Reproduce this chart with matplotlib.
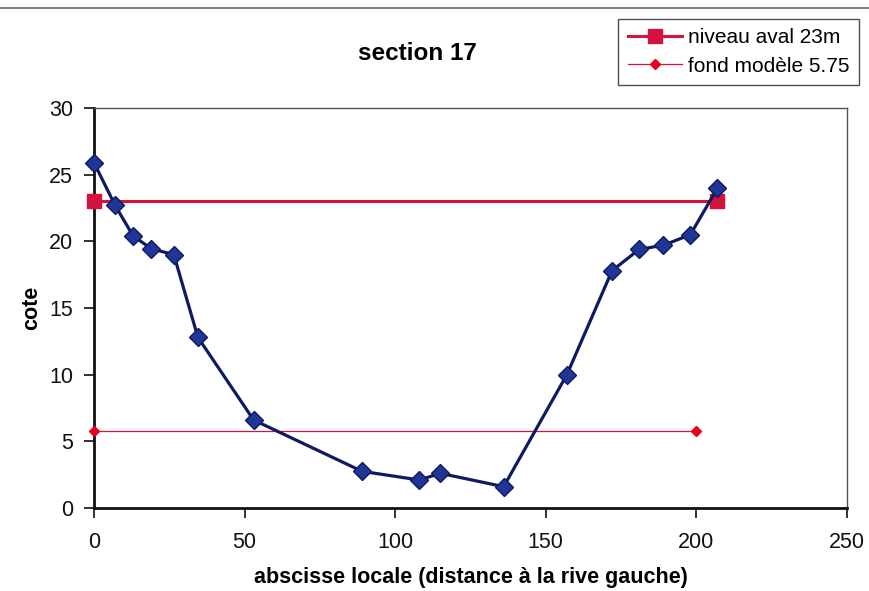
import matplotlib
matplotlib.use("Agg")
import matplotlib.pyplot as plt
from matplotlib.lines import Line2D

plt.rcParams['font.family'] = ['Liberation Sans', 'DejaVu Sans']

# Cross-section profile (local abscissa vs. elevation)
abscisse = [0, 7, 13, 19, 26.5, 34.5, 53, 89, 108, 115, 136, 157, 172, 181, 189, 198, 207]
cote = [25.9, 22.7, 20.4, 19.45, 19.0, 12.8, 6.6, 2.75, 2.1, 2.6, 1.6, 10.0, 17.8, 19.4, 19.7, 20.5, 24.0]

# Downstream water level
niveau_x = [0, 207]
niveau_y = [23, 23]

# Model bed level
fond_x = [0, 200]
fond_y = [5.75, 5.75]

xticks = [0, 50, 100, 150, 200, 250]
yticks = [0, 5, 10, 15, 20, 25, 30]

W, H = 869, 591
fig = plt.figure(figsize=(W / 100, H / 100), dpi=100)
ax = fig.add_axes([94 / W, 1 - 508 / H, 753 / W, 400 / H])

red = '#d4123e'
navy = '#101a60'
blue_fill = '#1e3796'

ax.plot(niveau_x, niveau_y, color=red, lw=2.2, marker='s', ms=10,
        mfc=red, mec=red, zorder=3, clip_on=False)
ax.plot(fond_x, fond_y, color=red, lw=0.9, marker='D', ms=5,
        mfc='#e8001c', mec='#e8001c', zorder=3, clip_on=False)
ax.plot(abscisse, cote, color=navy, lw=2.3, marker='D', ms=9,
        mfc=blue_fill, mec=navy, mew=1.0, zorder=4, clip_on=False)

ax.set_xlim(0, 250)
ax.set_ylim(0, 30)
ax.set_xticks(xticks)
ax.set_yticks(yticks)
ax.tick_params(axis='both', direction='out', length=7, width=1.2,
               labelsize=15.5, colors='#111111')
ax.tick_params(axis='x', pad=10)
ax.tick_params(axis='y', pad=8)

for side in ('left', 'bottom'):
    ax.spines[side].set_linewidth(2.0)
    ax.spines[side].set_color('#111111')
for side in ('top', 'right'):
    ax.spines[side].set_linewidth(1.0)
    ax.spines[side].set_color('#555555')

ax.set_xlabel('abscisse locale (distance à la rive gauche)', fontsize=15.5,
              fontweight='bold', labelpad=10)
ax.set_ylabel('cote', fontsize=15.5, fontweight='bold', labelpad=5)

fig.text(417 / W, 1 - 53 / H, 'section 17', fontsize=17.5, fontweight='bold',
         ha='center', va='center')

# Thin rule along the top of the chart area
fig.add_artist(Line2D([0, 1], [1 - 8 / H, 1 - 8 / H], color='#666666', lw=1.2))

handles = [
    Line2D([], [], color=red, lw=2.2, marker='s', ms=10, mfc=red, mec=red),
    Line2D([], [], color=red, lw=0.9, marker='D', ms=5, mfc='#e8001c', mec='#e8001c'),
]
leg = fig.legend(handles, ['niveau aval 23m', 'fond modèle 5.75'],
                 loc='upper right', bbox_to_anchor=(859 / W, 1 - 19 / H),
                 fontsize=15, frameon=True, fancybox=False, borderpad=0.45,
                 handlelength=2.6, handletextpad=0.3, labelspacing=0.45,
                 borderaxespad=0)
leg.get_frame().set_edgecolor('#222222')
leg.get_frame().set_linewidth(1.0)

fig.savefig('out.png', dpi=100)
